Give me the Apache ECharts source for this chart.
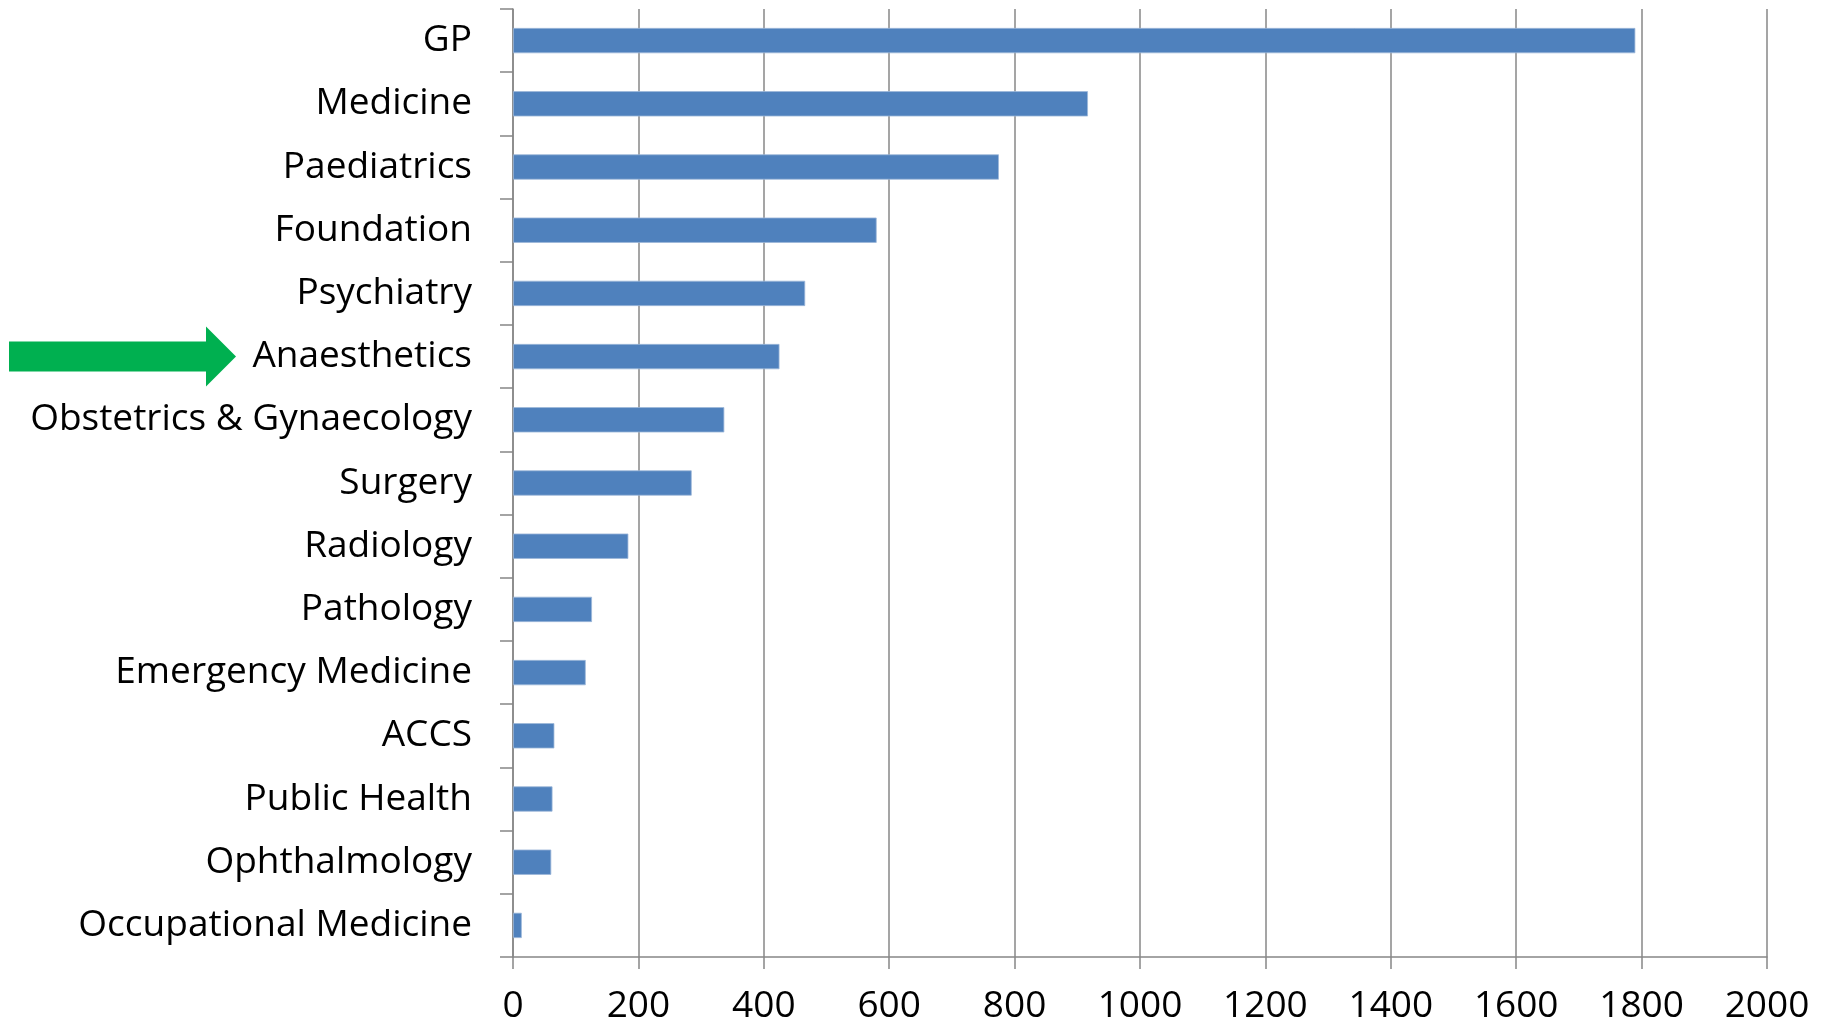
<!DOCTYPE html>
<html>
<head>
<meta charset="utf-8">
<script src="https://cdn.jsdelivr.net/npm/echarts@6/dist/echarts.min.js"></script>
<style>
  html, body { margin: 0; padding: 0; background: #fff; }
  #chart { width: 1824px; height: 1021px; }
</style>
</head>
<body>
<div id="chart"></div>
<script>
// Training posts by specialty
const specialties = [
  'GP', 'Medicine', 'Paediatrics', 'Foundation', 'Psychiatry', 'Anaesthetics',
  'Obstetrics & Gynaecology', 'Surgery', 'Radiology', 'Pathology',
  'Emergency Medicine', 'ACCS', 'Public Health', 'Ophthalmology', 'Occupational Medicine'
];
const posts = [1790, 917, 775, 580, 466, 425, 337, 285, 184, 126, 116, 66, 63, 61, 14];
const highlighted = 'Anaesthetics';

const axisGray = '#878787';
const fontFamily = '"Open Sans", "Noto Sans", sans-serif';

const chart = echarts.init(document.getElementById('chart'), null, { renderer: 'canvas' });

chart.setOption({
  animation: false,
  backgroundColor: '#ffffff',
  grid: {
    left: 513, right: 57, top: 9, bottom: 64,
    containLabel: false,
    outerBoundsMode: 'none'
  },
  xAxis: {
    type: 'value',
    min: 0,
    max: 2000,
    interval: 200,
    axisLine: { show: true, lineStyle: { color: axisGray, width: 1.5 } },
    axisTick: { show: true, length: 12, lineStyle: { color: axisGray, width: 1.5 } },
    splitLine: { show: true, lineStyle: { color: axisGray, width: 1.5 } },
    axisLabel: {
      color: '#000', fontSize: 37, fontFamily: fontFamily, margin: 31,
      formatter: function (v) { return String(v); }
    }
  },
  yAxis: {
    type: 'category',
    data: specialties,
    inverse: true,
    axisLine: { show: true, lineStyle: { color: axisGray, width: 1.5 } },
    axisTick: { show: true, length: 13, lineStyle: { color: axisGray, width: 1.5 } },
    splitLine: { show: false },
    axisLabel: { color: '#000', fontSize: 37, fontFamily: fontFamily, margin: 41 }
  },
  series: [{
    type: 'bar',
    data: posts,
    barCategoryGap: '60%',
    itemStyle: { color: '#4F81BD', borderColor: '#9db7d9', borderWidth: 0.8 }
  }]
});

// Green arrow pointing at the highlighted specialty
const cy = chart.convertToPixel({ yAxisIndex: 0 }, highlighted);
const shaftHalf = 15, headHalf = 30;
const x0 = 9, xHead = 206, xTip = 236;
chart.setOption({
  graphic: [{
    type: 'polygon',
    shape: {
      points: [
        [x0, cy - shaftHalf], [xHead, cy - shaftHalf], [xHead, cy - headHalf],
        [xTip, cy], [xHead, cy + headHalf], [xHead, cy + shaftHalf], [x0, cy + shaftHalf]
      ]
    },
    style: { fill: '#00B050' },
    silent: true
  }]
});
</script>
</body>
</html>
